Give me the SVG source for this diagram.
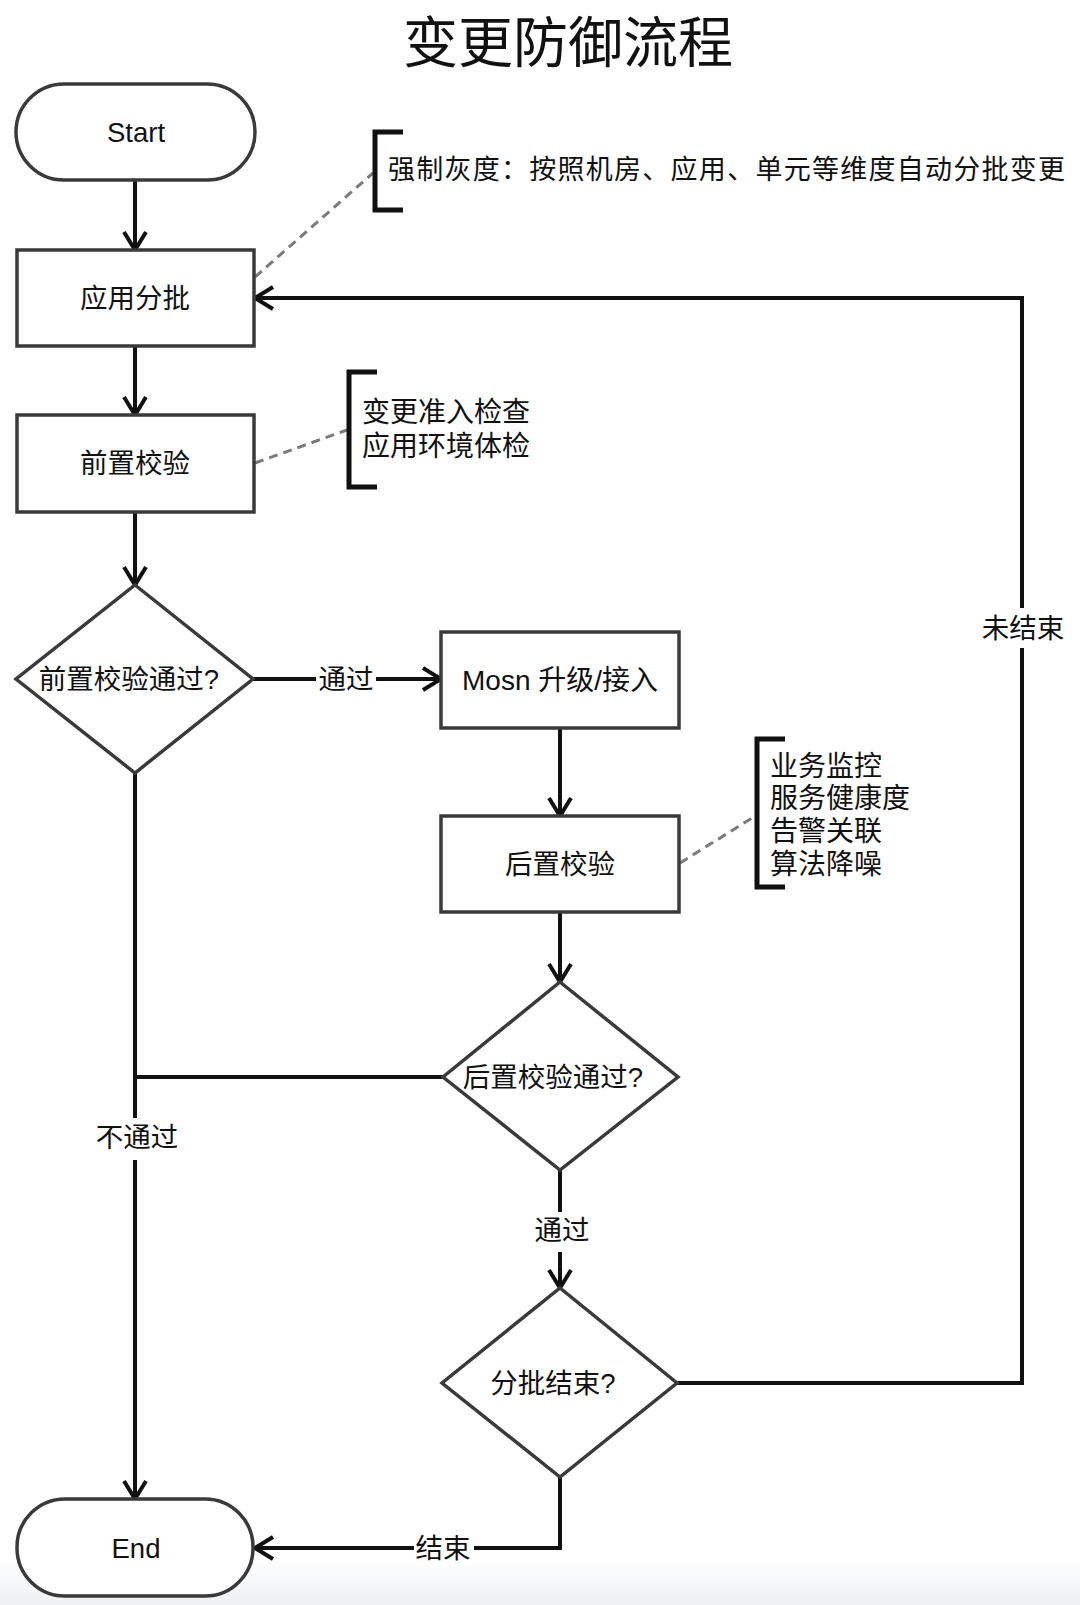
<svg xmlns="http://www.w3.org/2000/svg" width="1080" height="1605" viewBox="0 0 1080 1605">
<style>
text{font-family:"Liberation Sans","Noto Sans CJK SC",sans-serif;fill:#111;dominant-baseline:central}
.t{font-size:27.5px;text-anchor:middle}
.lat{font-size:27.5px}
.title{font-size:55px;text-anchor:middle;font-family:"Noto Sans CJK SC",sans-serif}
.note{font-size:28px;text-anchor:start}
.node{fill:#fff;stroke:#3a3a3a;stroke-width:3.5}
.conn{fill:none;stroke:#111;stroke-width:4}
.arr{marker-end:url(#ah)}
.dash{fill:none;stroke:#7a7a7a;stroke-width:3;stroke-dasharray:9 6}
.brk{fill:none;stroke:#111;stroke-width:5}
.lbg{fill:#fff}
</style>
<defs>
<marker id="ah" viewBox="0 0 22 26" refX="20" refY="13" markerWidth="22" markerHeight="26" markerUnits="userSpaceOnUse" orient="auto">
<path d="M2,2 L20,13 L2,24" fill="none" stroke="#111" stroke-width="4"/>
</marker>
<linearGradient id="bg" x1="0" y1="0" x2="0" y2="1">
<stop offset="0" stop-color="#fff"/>
<stop offset="1" stop-color="#eef0f2"/>
</linearGradient>
</defs>
<rect x="0" y="0" width="1080" height="1605" fill="#fff"/>
<rect x="0" y="1560" width="1080" height="45" fill="url(#bg)"/>
<text class="title" x="568" y="38">变更防御流程</text>

<g id="connectors">
<path class="conn arr" d="M135,180 L135,250"/>
<path class="conn arr" d="M135,346 L135,415"/>
<path class="conn arr" d="M135,512 L135,585"/>
<path class="conn arr" d="M253,679 L441,679"/>
<path class="conn arr" d="M560,728 L560,816"/>
<path class="conn arr" d="M560,912 L560,982"/>
<path class="conn arr" d="M560,1170 L560,1288"/>
<path class="conn arr" d="M560,1477 L560,1548 L255,1548"/>
<path class="conn arr" d="M677,1383 L1022,1383 L1022,298 L255,298"/>
<path class="conn arr" d="M135,773 L135,1499"/>
<path class="conn" d="M443,1077 L135,1077"/>
<rect class="lbg" x="316" y="662" width="60" height="34"/>
<text class="t" x="346" y="679">通过</text>
<rect class="lbg" x="532" y="1212" width="60" height="40"/>
<text class="t" x="562" y="1230">通过</text>
<rect class="lbg" x="414" y="1531" width="60" height="34"/>
<text class="t" x="443" y="1548">结束</text>
<rect class="lbg" x="94" y="1118" width="86" height="42"/>
<text class="t" x="137" y="1137">不通过</text>
<rect class="lbg" x="980" y="608" width="86" height="40"/>
<text class="t" x="1023" y="628">未结束</text>
<path class="dash" d="M255,277 L373,173"/>
<path class="dash" d="M255,463 L347,430"/>
<path class="dash" d="M680,863 L752,818"/>
</g>

<g id="start">
<rect class="node" x="16" y="84" width="239" height="96" rx="48"/>
<text class="t" x="136" y="132">Start</text>
</g>
<g id="batch">
<rect class="node" x="17" y="250" width="237" height="96"/>
<text class="t" x="135" y="298">应用分批</text>
</g>
<g id="precheck">
<rect class="node" x="17" y="415" width="237" height="97"/>
<text class="t" x="135" y="463">前置校验</text>
</g>
<g id="precheck-pass">
<polygon class="node" points="135,585 253,679 135,773 16,679"/>
<text class="t" x="129" y="679">前置校验通过?</text>
</g>
<g id="mosn">
<rect class="node" x="441" y="632" width="238" height="96"/>
<text class="t" x="560" y="680" style="font-size:28px">Mosn 升级/接入</text>
</g>
<g id="postcheck">
<rect class="node" x="441" y="816" width="238" height="96"/>
<text class="t" x="560" y="864">后置校验</text>
</g>
<g id="postcheck-pass">
<polygon class="node" points="560,982 678,1077 560,1170 443,1077"/>
<text class="t" x="553" y="1077">后置校验通过?</text>
</g>
<g id="batch-end">
<polygon class="node" points="560,1288 677,1383 560,1477 442,1383"/>
<text class="t" x="553" y="1383">分批结束?</text>
</g>
<g id="end">
<rect class="node" x="17" y="1499" width="236" height="97" rx="48"/>
<text class="t" x="136" y="1548">End</text>
</g>

<g id="note-batch">
<path class="brk" d="M403,132 L375,132 L375,210 L403,210"/>
<text class="note" x="388" y="170" textLength="677" lengthAdjust="spacing" style="font-size:27px">强制灰度：按照机房、应用、单元等维度自动分批变更</text>
</g>
<g id="note-pre">
<path class="brk" d="M377,372 L349,372 L349,487 L377,487"/>
<text class="note" x="362" y="412">变更准入检查</text>
<text class="note" x="362" y="446">应用环境体检</text>
</g>
<g id="note-post">
<path class="brk" d="M785,739 L757,739 L757,887 L785,887"/>
<text class="note" x="770" y="766">业务监控</text>
<text class="note" x="770" y="798">服务健康度</text>
<text class="note" x="770" y="831">告警关联</text>
<text class="note" x="770" y="864">算法降噪</text>
</g>
</svg>
